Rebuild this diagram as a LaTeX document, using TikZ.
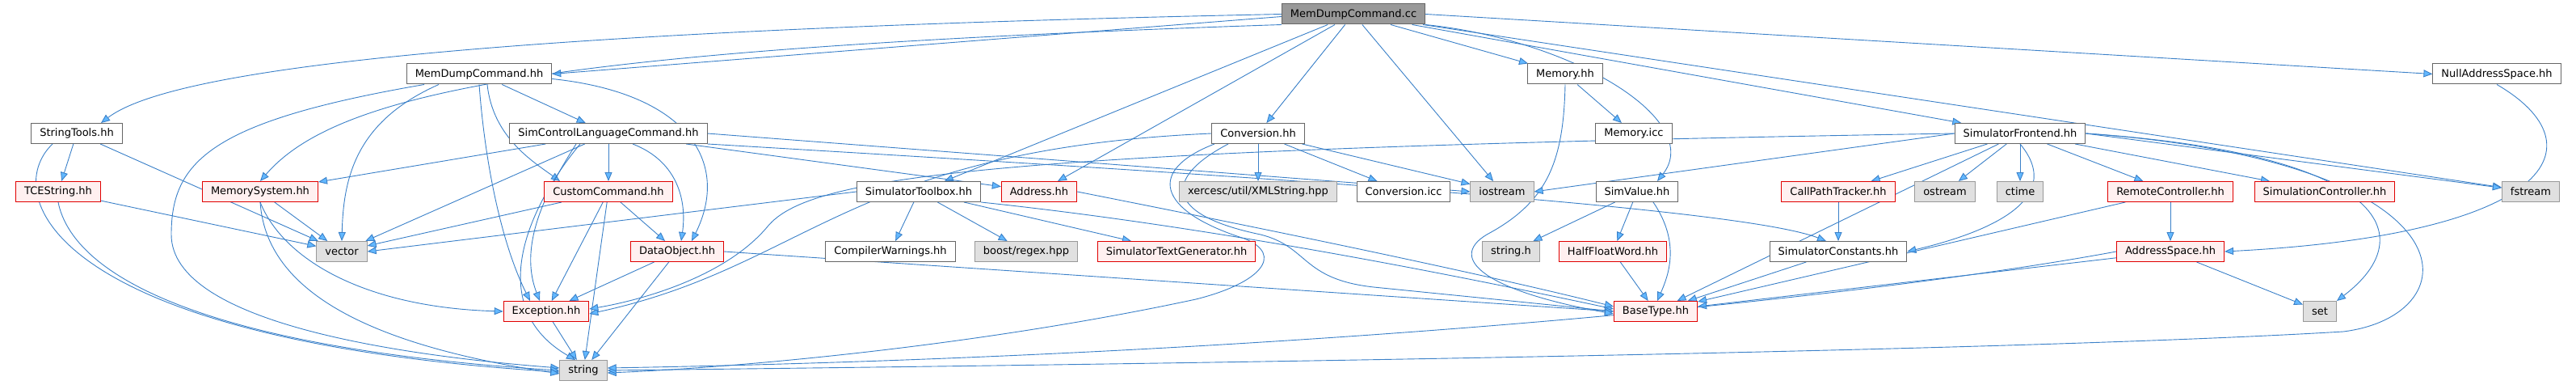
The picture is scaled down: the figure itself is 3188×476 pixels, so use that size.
\documentclass[tikz,border=0pt]{standalone}
\usepackage{fontspec}
\setmainfont{DejaVu Sans}
\usetikzlibrary{arrows.meta}
\definecolor{edgeline}{HTML}{3A80C8}
\definecolor{edgefill}{HTML}{63B8FF}
\definecolor{rootfill}{HTML}{999999}
\definecolor{darkdraw}{HTML}{666666}
\definecolor{redfill}{HTML}{FFF0F0}
\definecolor{reddraw}{HTML}{E00000}
\definecolor{sysfill}{HTML}{E0E0E0}
\definecolor{sysdraw}{HTML}{999999}
\pgfdeclarelayer{edges}
\pgfsetlayers{edges,main}

\begin{document}
\begin{tikzpicture}[x=1pt,y=-1pt,
  file/.style={rectangle,draw,line width=1pt,minimum height=25pt,inner xsep=10.5pt,inner ysep=0pt,font=\fontsize{13}{15}\selectfont},
  rootfile/.style={file,fill=rootfill,draw=darkdraw},
  docfile/.style={file,fill=white,draw=darkdraw},
  redfile/.style={file,fill=redfill,draw=reddraw},
  sysfile/.style={file,fill=sysfill,draw=sysdraw},
  inc/.style={draw=edgeline,line width=0.9pt,-{Triangle[length=11pt,width=9pt,fill=edgefill]}}]
\useasboundingbox (0,0) rectangle (3188,476);

% Nodes (files)
\node[rootfile] (cc) at (1675,17.5) {MemDumpCommand.cc};
\node[docfile] (mdhh) at (593,91.5) {MemDumpCommand.hh};
\node[docfile] (memhh) at (1937,91.5) {Memory.hh};
\node[docfile] (nullas) at (3090,91.5) {NullAddressSpace.hh};

\node[docfile] (strtools) at (95,165) {StringTools.hh};
\node[docfile] (sclc) at (753,165) {SimControlLanguageCommand.hh};
\node[docfile] (conv) at (1557,165) {Conversion.hh};
\node[docfile] (memicc) at (2022,165) {Memory.icc};
\node[docfile] (simfront) at (2500,165) {SimulatorFrontend.hh};

\node[redfile] (tcestr) at (72,237) {TCEString.hh};
\node[redfile] (memsys) at (322,237) {MemorySystem.hh};
\node[redfile] (custcmd) at (753,237) {CustomCommand.hh};
\node[docfile] (simtbox) at (1137,237) {SimulatorToolbox.hh};
\node[redfile] (addr) at (1286,237) {Address.hh};
\node[sysfile] (xmlstr) at (1557,237) {xercesc/util/XMLString.hpp};
\node[docfile] (convicc) at (1737,237) {Conversion.icc};
\node[sysfile] (iostr) at (1859,237) {iostream};
\node[docfile] (simval) at (2026,237) {SimValue.hh};
\node[redfile] (cpt) at (2275,237) {CallPathTracker.hh};
\node[sysfile] (ostr) at (2407,237) {ostream};
\node[sysfile] (ctime) at (2500,237) {ctime};
\node[redfile] (remote) at (2686,237) {RemoteController.hh};
\node[redfile] (simctrl) at (2877,237) {SimulationController.hh};
\node[sysfile] (fstr) at (3132,237) {fstream};

\node[sysfile] (vec) at (423,311) {vector};
\node[redfile] (dataobj) at (838,311) {DataObject.hh};
\node[docfile] (compwarn) at (1102,311) {CompilerWarnings.hh};
\node[sysfile] (boostre) at (1270,311) {boost/regex.hpp};
\node[redfile] (simtext) at (1456,311) {SimulatorTextGenerator.hh};
\node[sysfile] (strh) at (1870,311) {string.h};
\node[redfile] (halffloat) at (1996,311) {HalfFloatWord.hh};
\node[docfile] (simconst) at (2275,311) {SimulatorConstants.hh};
\node[redfile] (addrspace) at (2686,311) {AddressSpace.hh};

\node[redfile] (excep) at (676,385) {Exception.hh};
\node[redfile] (basetype) at (2049,385) {BaseType.hh};
\node[sysfile] (setn) at (2871,385) {set};

\node[sysfile] (strn) at (722,458) {string};

\begin{pgfonlayer}{edges}
% Edges (includes of MemDumpCommand.cc)
\draw[inc] (cc.west) .. controls (500,40) and (200,95) .. ([xshift=30pt]strtools.north);
\draw[inc] ([yshift=-3pt]cc.west) -- (mdhh.east);
\draw[inc] (cc.south west) .. controls (700,60) and (420,110) .. (memsys.north);
\draw[inc] (cc) -- (simtbox);
\draw[inc] (cc) -- (addr);
\draw[inc] (cc) -- (conv);
\draw[inc] (cc) -- (iostr);
\draw[inc] (cc) -- (memhh);
\draw[inc] (cc.south east) .. controls (1950,50) and (2110,150) .. ([xshift=25pt]simval.north);
\draw[inc] (cc) -- (simfront);
\draw[inc] (cc.east) -- (nullas.west);
\draw[inc] (cc) -- (fstr);

% Edges (MemDumpCommand.hh)
\draw[inc] (mdhh) -- (sclc);
\draw[inc] ([xshift=10pt]mdhh.south) .. controls (610,170) and (660,200) .. ([xshift=-60pt]custcmd.north);
\draw[inc] (mdhh.south) .. controls (600,200) and (620,300) .. ([xshift=-20pt]excep.north);
\draw[inc] ([yshift=-6pt]mdhh.east) .. controls (850,115) and (905,200) .. ([xshift=18pt]dataobj.north);
\draw[inc] ([xshift=-50pt]mdhh.south) .. controls (440,150) and (425,220) .. (vec.north);
\draw[inc] ([xshift=-68pt]mdhh.south) .. controls (260,150) and (212,200) .. (212,290) .. controls (212,400) and (500,440) .. ([yshift=3pt]strn.west);

% Edges (StringTools.hh, TCEString.hh, MemorySystem.hh)
\draw[inc] (strtools) -- (tcestr);
\draw[inc] (strtools) -- (vec);
\draw[inc] ([xshift=-30pt]strtools.south) .. controls (0,240) and (60,420) .. ([yshift=-2pt]strn.west);
\draw[inc] (tcestr) -- (vec);
\draw[inc] (tcestr.south) .. controls (90,340) and (250,430) .. (strn.west);
\draw[inc] (memsys) -- (vec);
\draw[inc] (memsys.south) .. controls (330,370) and (480,430) .. ([yshift=-4pt]strn.west);
\draw[inc] (memsys.south) .. controls (350,320) and (450,380) .. (excep.west);

% Edges (SimControlLanguageCommand.hh)
\draw[inc] (sclc) -- (memsys);
\draw[inc] (sclc) -- (custcmd);
\draw[inc] ([xshift=30pt]sclc.south) .. controls (840,200) and (850,250) .. ([xshift=5pt]dataobj.north);
\draw[inc] (sclc) -- (vec);
\draw[inc] ([xshift=-40pt]sclc.south) .. controls (680,230) and (640,300) .. ([xshift=-8pt]excep.north);
\draw[inc] ([xshift=-35pt]sclc.south) .. controls (650,260) and (600,380) .. ([xshift=-10pt]strn.north);
\draw[inc] (sclc.east) -- (iostr.west);
\draw[inc] (sclc) -- (addr);
\draw[inc] (sclc.south east) .. controls (1500,215) and (2150,255) .. ([xshift=-15pt]simconst.north);

% Edges (CustomCommand.hh, DataObject.hh, Exception.hh)
\draw[inc] (custcmd) -- (dataobj);
\draw[inc] (custcmd) -- (excep);
\draw[inc] (custcmd) -- (strn);
\draw[inc] (custcmd) -- (vec);
\draw[inc] (dataobj) -- (excep);
\draw[inc] (dataobj) -- (strn);
\draw[inc] (dataobj.east) -- (basetype.west);
\draw[inc] (excep) -- (strn);

% Edges (SimulatorToolbox.hh, Address.hh)
\draw[inc] (simtbox.west) -- (vec.east);
\draw[inc] (simtbox) -- (compwarn);
\draw[inc] (simtbox) -- (boostre);
\draw[inc] (simtbox) -- (simtext);
\draw[inc] (simtbox.south east) .. controls (1500,280) and (1800,340) .. ([yshift=3pt]basetype.west);
\draw[inc] (addr.east) .. controls (1500,270) and (1800,330) .. ([yshift=6pt]basetype.west);

% Edges (Conversion.hh, Memory.hh)
\draw[inc] (conv) -- (xmlstr);
\draw[inc] (conv) -- (convicc);
\draw[inc] (conv) -- (iostr);
\draw[inc] (conv.west) .. controls (1050,185) and (1000,330) .. ([yshift=-3pt]excep.east);
\draw[inc] ([xshift=-54pt]conv.south) .. controls (1420,210) and (1430,260) .. (1540,295) .. controls (1590,315) and (1560,350) .. (1480,370) .. controls (1200,430) and (900,455) .. ([yshift=-3pt]strn.east);
\draw[inc] ([xshift=-37pt]conv.south) .. controls (1440,220) and (1440,265) .. (1560,290) .. controls (1620,305) and (1610,345) .. (1700,355) .. controls (1800,365) and (1900,375) .. (basetype.west);
\draw[inc] (memhh) -- (memicc);
\draw[inc] (memhh.south) .. controls (1935,200) and (1915,250) .. (1840,290) .. controls (1790,320) and (1840,360) .. ([yshift=-3pt]basetype.west);

% Edges (SimValue.hh)
\draw[inc] (simval) -- (strh);
\draw[inc] (simval) -- (halffloat);
\draw[inc] ([xshift=20pt]simval.south) .. controls (2080,300) and (2065,340) .. ([xshift=2pt]basetype.north);
\draw[inc] (halffloat) -- (basetype);

% Edges (SimulatorFrontend.hh)
\draw[inc] (simfront.west) -- (iostr.east);
\draw[inc] (simfront.west) .. controls (1200,185) and (1000,220) .. (950,280) .. controls (900,340) and (800,370) .. ([yshift=3pt]excep.east);
\draw[inc] (simfront) -- (cpt);
\draw[inc] (simfront) -- (ostr);
\draw[inc] (simfront) -- (ctime);
\draw[inc] (simfront) -- (remote);
\draw[inc] (simfront) -- (simctrl);
\draw[inc] (simfront.east) -- (fstr);
\draw[inc] (simfront.east) .. controls (2950,190) and (3000,290) .. (setn.north east);
\draw[inc] (simfront.east) .. controls (3070,200) and (3060,390) .. (2900,410) .. controls (2400,440) and (1000,455) .. (strn.east);
\draw[inc] (simfront) -- (basetype);
\draw[inc] (simfront.south) .. controls (2560,250) and (2450,290) .. (simconst.east);

% Edges (CallPathTracker.hh, SimulatorConstants.hh, RemoteController.hh)
\draw[inc] (cpt) -- (simconst);
\draw[inc] (simconst) -- (basetype);
\draw[inc] (remote) -- (addrspace);
\draw[inc] (remote) -- (basetype);

% Edges (AddressSpace.hh, NullAddressSpace.hh)
\draw[inc] (addrspace) -- (setn);
\draw[inc] (addrspace) -- (basetype);
\draw[inc] (addrspace.west) .. controls (2300,370) and (1600,440) .. ([yshift=3pt]strn.east);
\draw[inc] (nullas.south) .. controls (3220,180) and (3160,290) .. (addrspace.east);
\end{pgfonlayer}
\end{tikzpicture}
\end{document}
